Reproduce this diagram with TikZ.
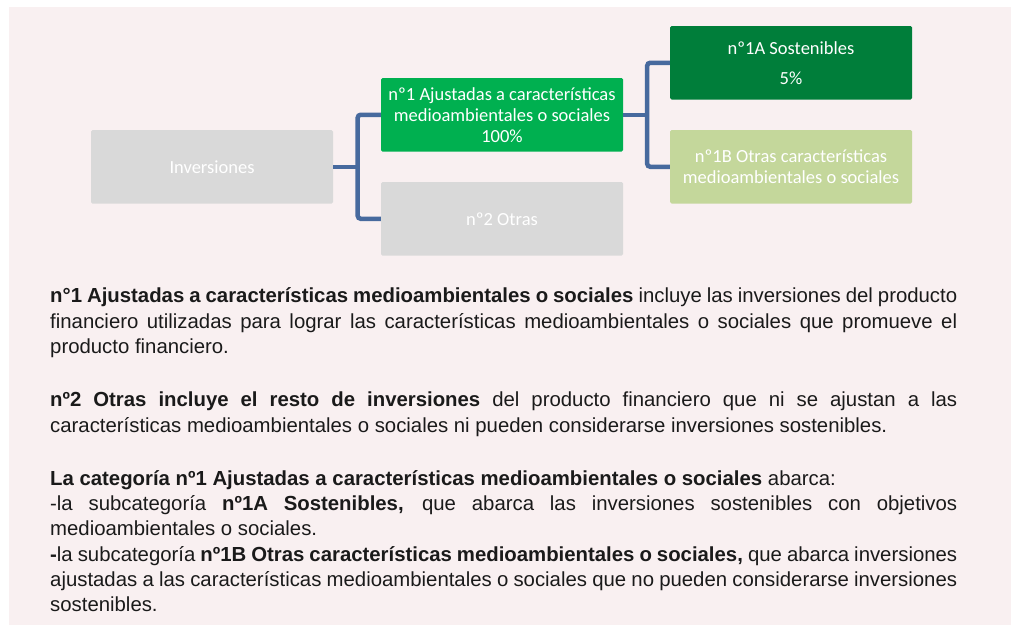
\documentclass[tikz,border=0pt]{standalone}
\usepackage{fontspec}
\setmainfont{Liberation Sans}
\newfontfamily\boxfont{Carlito}
\usetikzlibrary{calc}
\definecolor{panel}{RGB}{249,240,241}
\definecolor{boxgray}{RGB}{217,217,217}
\definecolor{greenmid}{RGB}{0,176,80}
\definecolor{greendark}{RGB}{0,126,58}
\definecolor{greenlight}{RGB}{196,215,155}
\definecolor{linkblue}{RGB}{71,106,158}
\definecolor{bodytext}{RGB}{26,26,26}
\tolerance=10000
\hbadness=10000
\hyphenpenalty=10000

\begin{document}
\begin{tikzpicture}[x=1pt, y=-1pt,
  box/.style={minimum width=242pt, minimum height=73.5pt, inner sep=2pt, text=white, align=center,
    rounded corners=1.5pt, font=\boxfont\fontsize{18.5}{21}\selectfont},
  link/.style={draw=linkblue, line width=4.5pt, rounded corners=3pt},
  para/.style={anchor=base west, inner sep=0pt, text width=907pt, align=justify, text=bodytext,
    font=\fontsize{20.35}{25.3}\selectfont}]
  \useasboundingbox (0,0) rectangle (1011,625);
  % panel
  \fill[panel] (9,7) rectangle (1011,625);
  % the tree of categories
  \node[box, fill=boxgray] (inv) at (212,166.75) {Inversiones};
  \node[box, fill=greenmid] (n1) at (502,114.75) {nº1 Ajustadas a características\\medioambientales o sociales\\100\%};
  \node[box, fill=boxgray] (n2) at (502,218.75) {nº2 Otras};
  \node[box, fill=greendark] (n1a) at (791,62.75) {nº1A Sostenibles\\[9pt]5\%};
  \node[box, fill=greenlight] (n1b) at (791,166.75) {nº1B Otras características\\medioambientales o sociales};
  % brackets
  \coordinate (fork1) at ($(inv.east)+(24.5,0)$);
  \coordinate (fork2) at ($(n1.east)+(24,0)$);
  \draw[link] (inv.east) -- (fork1);
  \draw[link] (n1.west) -| (fork1) |- (n2.west);
  \draw[link] (n1.east) -- (fork2);
  \draw[link] (n1a.west) -| (fork2) |- (n1b.west);
  % explanations
  \node[para] (p1) at (50,302.7) {\textbf{n°1 Ajustadas a características medioambientales o sociales} incluye las inversiones del producto\linebreak
    financiero utilizadas para lograr las características medioambientales o sociales que promueve el\linebreak
    producto financiero.};
  \node[para] (p2) at (50,406.7) {\textbf{nº2 Otras incluye el resto de inversiones} del producto financiero que ni se ajustan a las\linebreak
    características medioambientales o sociales ni pueden considerarse inversiones sostenibles.};
  \node[para] (p3) at (50,485.3) {\textbf{La categoría nº1 Ajustadas a características medioambientales o sociales} abarca:\par
    -la subcategoría \textbf{nº1A Sostenibles,} que abarca las inversiones sostenibles con objetivos\linebreak
    medioambientales o sociales.\par
    \textbf{-}la subcategoría \textbf{nº1B Otras características medioambientales o sociales,} que abarca inversiones\linebreak
    ajustadas a las características medioambientales o sociales que no pueden considerarse inversiones\linebreak
    sostenibles.};
\end{tikzpicture}
\end{document}
